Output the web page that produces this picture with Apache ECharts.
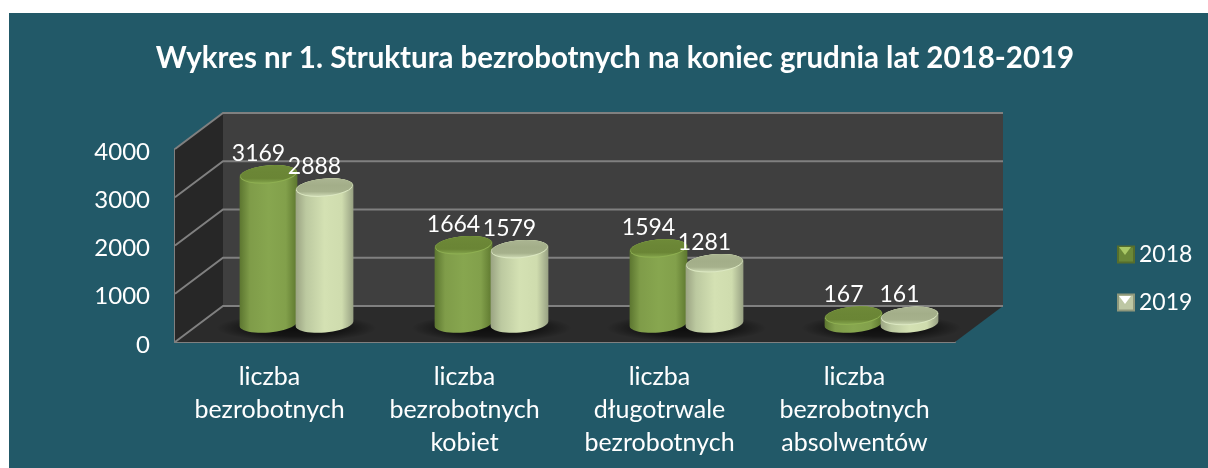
<!DOCTYPE html>
<html>
<head>
<meta charset="utf-8">
<style>
  html, body { margin: 0; padding: 0; background: #fff; }
  #chart { width: 1208px; height: 468px; }
</style>
<script src="https://cdn.jsdelivr.net/npm/echarts@6/dist/echarts.min.js"></script>
</head>
<body>
<div id="chart"></div>
<script>
const categories = [
  'liczba\nbezrobotnych',
  'liczba\nbezrobotnych\nkobiet',
  'liczba\ndługotrwale\nbezrobotnych',
  'liczba\nbezrobotnych\nabsolwentów',
];
const values2018 = [3169, 1664, 1594, 167];
const values2019 = [2888, 1579, 1281, 161];
const yTicks = [0, 1000, 2000, 3000, 4000];

const FONT = 'Lato, "Open Sans", sans-serif';
const DEPTH_X = 48;
const DEPTH_Y = 36;
const TILT = -0.09;

const green = {
  side: ['#5c7630', '#7f9c49', '#87a64f', '#82a04b', '#5d772e'],
  rim: '#8fb052',
  top: ['#6e8a38', '#6b8636', '#6a8535', '#82a24a'],
};
const pale = {
  side: ['#9aa382', '#bcc9a0', '#d4e1b3', '#cfdcae', '#98a183'],
  rim: '#dce8c2',
  top: ['#abb592', '#a3ae89', '#a6b18c', '#ccd8b2'],
};

// punkty elipsy pochylonej o TILT, od kata a do kata b
function arc(cx, cy, rx, ry, a, b) {
  const pts = [];
  for (let i = 0; i <= 24; i++) {
    const t = a + ((b - a) * i) / 24;
    const ex = rx * Math.cos(t);
    const ey = ry * Math.sin(t);
    pts.push([
      cx + ex * Math.cos(TILT) - ey * Math.sin(TILT),
      cy + ex * Math.sin(TILT) + ey * Math.cos(TILT),
    ]);
  }
  return pts;
}

function sideFill(colors) {
  return {
    type: 'linear', x: 0, y: 0, x2: 1, y2: 0,
    colorStops: colors.map((c, i) => ({ offset: [0, 0.18, 0.5, 0.8, 1][i], color: c })),
  };
}

function topFill(colors) {
  return {
    type: 'linear', x: 0, y: 0, x2: 0, y2: 1,
    colorStops: colors.map((c, i) => ({ offset: [0, 0.4, 0.75, 1][i], color: c })),
  };
}

function renderWalls(params, api) {
  const sys = params.coordSys;
  const x0 = sys.x;
  const x1 = sys.x + sys.width;
  const yTop = api.coord([0, yTicks[yTicks.length - 1]])[1];
  const yZero = api.coord([0, 0])[1];
  const children = [
    { type: 'polygon', shape: { points: [[x0, yTop], [x0 + DEPTH_X, yTop - DEPTH_Y], [x0 + DEPTH_X, yZero - DEPTH_Y], [x0, yZero]] }, style: { fill: '#272727' } },
    { type: 'rect', shape: { x: x0 + DEPTH_X, y: yTop - DEPTH_Y, width: sys.width, height: yZero - yTop }, style: { fill: '#3f3f3f' } },
    { type: 'polygon', shape: { points: [[x0, yZero], [x1, yZero], [x1 + DEPTH_X, yZero - DEPTH_Y], [x0 + DEPTH_X, yZero - DEPTH_Y]] }, style: { fill: '#2b2b2b' } },
  ];
  yTicks.forEach((tick) => {
    const y = api.coord([0, tick])[1];
    children.push({
      type: 'polyline',
      shape: { points: [[x0, y], [x0 + DEPTH_X, y - DEPTH_Y], [x1 + DEPTH_X, y - DEPTH_Y]] },
      style: { stroke: '#808080', lineWidth: 2, fill: 'none' },
    });
  });
  return { type: 'group', children };
}

function renderShadow(params, api) {
  const p = api.coord([api.value(0), 0]);
  return {
    type: 'circle',
    x: p[0] + DEPTH_X / 2,
    y: p[1] - 14,
    scaleY: 0.17,
    shape: { cx: 0, cy: 0, r: 80 },
    style: {
      fill: {
        type: 'radial', x: 0.5, y: 0.5, r: 0.5,
        colorStops: [
          { offset: 0, color: 'rgba(0,0,0,0.7)' },
          { offset: 0.6, color: 'rgba(0,0,0,0.5)' },
          { offset: 1, color: 'rgba(0,0,0,0)' },
        ],
      },
    },
  };
}

function cylinder(shift, look) {
  return function (params, api) {
    const v = api.value(1);
    const p = api.coord([api.value(0), v]);
    const zero = api.coord([api.value(0), 0]);
    const cx = p[0] + shift + DEPTH_X / 2;
    const base = zero[1] - 18.5;
    const top = base - (zero[1] - p[1]) * 0.975;
    const rx = 29;
    const ry = 9;
    return {
      type: 'group',
      children: [
        {
          type: 'polygon',
          shape: { points: arc(cx, base, rx, ry, 0, Math.PI).concat(arc(cx, top, rx, ry, Math.PI, Math.PI * 2)) },
          style: { fill: sideFill(look.side) },
        },
        { type: 'polygon', shape: { points: arc(cx, top, rx - 0.5, ry, 0, Math.PI * 2) }, style: { fill: look.rim } },
        { type: 'polygon', shape: { points: arc(cx, top - 0.5, rx - 1, ry - 0.5, 0, Math.PI * 2) }, style: { fill: topFill(look.top) } },
        {
          type: 'text',
          style: {
            text: String(v), x: cx - 10, y: top - 21, fill: '#fff',
            font: '23px ' + FONT, align: 'center', verticalAlign: 'middle',
          },
        },
      ],
    };
  };
}

const chart = echarts.init(document.getElementById('chart'));

chart.setOption({
  animation: false,
  backgroundColor: '#fff',
  title: {
    text: 'Wykres nr 1. Struktura bezrobotnych na koniec grudnia lat 2018-2019',
    left: 610,
    top: 38,
    textAlign: 'center',
    textStyle: { color: '#fff', fontFamily: FONT, fontSize: 29.5, fontWeight: 'bold' },
  },
  legend: {
    orient: 'vertical',
    left: 1117,
    top: 243,
    padding: 0,
    itemWidth: 16,
    itemHeight: 16,
    itemGap: 25,
    icon: 'rect',
    data: ['2018', '2019'],
    textStyle: { color: '#fff', fontFamily: FONT, fontSize: 23 },
  },
  grid: { left: 175, top: 149, width: 780, height: 193 },
  xAxis: {
    type: 'category',
    data: categories,
    axisLine: { lineStyle: { color: '#808080', width: 2 } },
    axisTick: { show: false },
    axisLabel: { color: '#fff', fontFamily: FONT, fontSize: 25, lineHeight: 33, margin: 18, interval: 0, padding: [0, 6, 0, 0] },
  },
  yAxis: {
    type: 'value',
    min: 0,
    max: 4000,
    interval: 1000,
    axisLine: { show: true, lineStyle: { color: '#808080', width: 2 } },
    axisTick: { show: false },
    splitLine: { show: false },
    axisLabel: {
      margin: 25,
      formatter: (v) => '{n|' + v + '}',
      rich: { n: { color: '#fff', fontFamily: FONT, fontSize: 24, padding: [6, 0, 0, 0] } },
    },
  },
  graphic: [
    { type: 'rect', z: -10, shape: { x: 9, y: 13, width: 1199, height: 455 }, style: { fill: '#225968' } },
    { type: 'polygon', z: 100, shape: { points: [[1119, 247], [1131, 247], [1125, 255]] }, style: { fill: '#a9c865' } },
    { type: 'polygon', z: 100, shape: { points: [[1119, 296], [1131, 296], [1125, 304]] }, style: { fill: '#ffffff' } },
  ],
  series: [
    { type: 'custom', name: 'sciany', silent: true, z: 1, data: [[0, 0]], renderItem: renderWalls },
    { type: 'custom', name: 'cien', silent: true, z: 2, data: categories.map((c, i) => [i, 0]), renderItem: renderShadow },
    {
      type: 'custom',
      name: '2018',
      z: 3,
      itemStyle: { color: '#6b8838', borderColor: '#566e2c', borderWidth: 1 },
      data: values2018.map((v, i) => [i, v]),
      encode: { x: 0, y: 1 },
      renderItem: cylinder(-28, green),
    },
    {
      type: 'custom',
      name: '2019',
      z: 4,
      itemStyle: { color: '#bdc7a4', borderColor: '#8f987c', borderWidth: 1 },
      data: values2019.map((v, i) => [i, v]),
      encode: { x: 0, y: 1 },
      renderItem: cylinder(28, pale),
    },
  ],
});
</script>
</body>
</html>
